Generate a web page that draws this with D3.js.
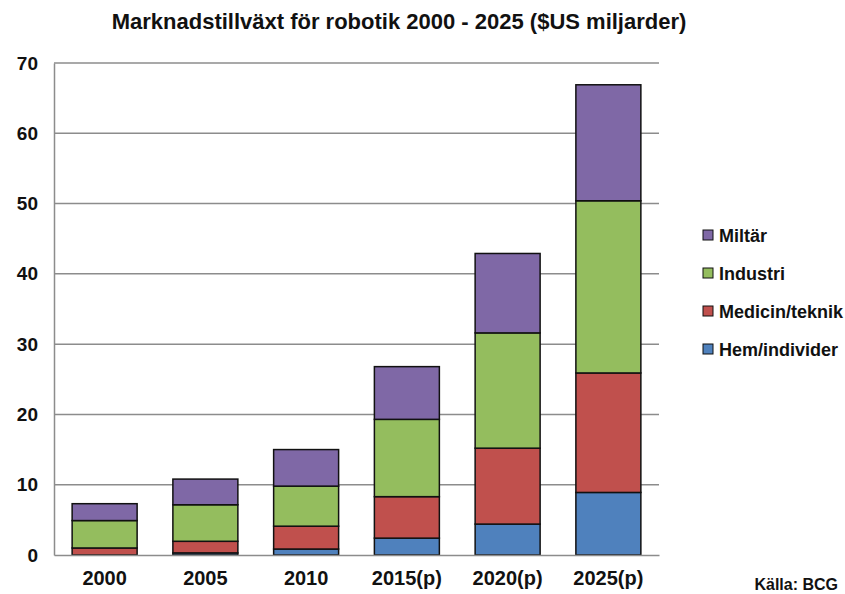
<!DOCTYPE html>
<html lang="sv">
<head>
<meta charset="utf-8">
<title>Marknadstillväxt för robotik</title>
<script src="https://cdnjs.cloudflare.com/ajax/libs/d3/7.8.5/d3.min.js"></script>
<style>
  body { margin: 0; background: #fff; }
  svg text { font-family: "Liberation Sans", Arial, sans-serif; font-weight: bold; fill: #111; }
</style>
</head>
<body>
<div id="chart"></div>
<script>
// data
var years = ["2000", "2005", "2010", "2015(p)", "2020(p)", "2025(p)"];
var seriesNames = ["Hem/individer", "Medicin/teknik", "Industri", "Miltär"];
var hem = [0, 0.3, 0.85, 2.4, 4.4, 8.9];
var medicin = [1.0, 1.65, 3.25, 5.9, 10.8, 17.0];
var industri = [3.9, 5.2, 5.7, 11.0, 16.4, 24.5];
var militar = [2.4, 3.65, 5.2, 7.5, 11.3, 16.5];
var yTicks = [0, 10, 20, 30, 40, 50, 60, 70];
var colors = ["#4f81bd", "#c0504d", "#94bd5e", "#7f68a6"];

var W = 845, H = 594;
var plotLeft = 54, plotRight = 659, plotTop = 63, plotBottom = 555;

var svg = d3.select("#chart").append("svg")
    .attr("width", W).attr("height", H);

var x = d3.scaleBand().domain(years).range([plotLeft, plotRight]).paddingInner(0.355).paddingOuter(0.18);
var y = d3.scaleLinear().domain([0, 70]).range([plotBottom, plotTop]);

// stack the four series
var table = years.map(function (yr, i) {
    return { year: yr, s0: hem[i], s1: medicin[i], s2: industri[i], s3: militar[i] };
});
var stacked = d3.stack().keys(["s0", "s1", "s2", "s3"])(table);

// gridlines
svg.append("g").selectAll("line").data(yTicks.slice(1)).join("line")
    .attr("x1", plotLeft).attr("x2", plotRight)
    .attr("y1", function (d) { return y(d); }).attr("y2", function (d) { return y(d); })
    .attr("stroke", "#8c8c8c").attr("stroke-width", 1.5);

// y axis
var yAxis = svg.append("g").attr("transform", "translate(" + plotLeft + ",0)")
    .call(d3.axisLeft(y).tickValues(yTicks).tickSize(0).tickPadding(16));
yAxis.select(".domain").attr("stroke", "#8c8c8c").attr("stroke-width", 1.5);
yAxis.selectAll("text").style("font-size", "19px");

// bars
svg.append("g").selectAll("g").data(stacked).join("g")
    .attr("fill", function (d, i) { return colors[i]; })
    .selectAll("rect").data(function (d) { return d; }).join("rect")
    .attr("x", function (d) { return x(d.data.year); })
    .attr("width", x.bandwidth())
    .attr("y", function (d) { return y(d[1]); })
    .attr("height", function (d) { return y(d[0]) - y(d[1]); })
    .attr("stroke", "#111").attr("stroke-width", 1.5);

// x axis
var xAxis = svg.append("g").attr("transform", "translate(0," + plotBottom + ")")
    .call(d3.axisBottom(x).tickSize(0).tickPadding(16));
xAxis.select(".domain").attr("stroke", "#8c8c8c").attr("stroke-width", 1.5);
xAxis.selectAll("text").style("font-size", "20px");

// title
svg.append("text").attr("x", 399).attr("y", 29).attr("text-anchor", "middle")
    .style("font-size", "22px")
    .text("Marknadstillväxt för robotik 2000 - 2025 ($US miljarder)");

// legend (top entry is the top of the stack)
var legend = svg.append("g").selectAll("g").data([3, 2, 1, 0]).join("g")
    .attr("transform", function (d, i) { return "translate(703," + (236 + i * 38) + ")"; });
legend.append("rect").attr("x", 0).attr("y", -6).attr("width", 10).attr("height", 10)
    .attr("fill", function (d) { return colors[d]; }).attr("stroke", "#111").attr("stroke-width", 1);
legend.append("text").attr("x", 16).attr("y", 6)
    .style("font-size", "18px")
    .text(function (d) { return seriesNames[d]; });

// source
svg.append("text").attr("x", 838).attr("y", 590).attr("text-anchor", "end")
    .style("font-size", "16px").text("Källa: BCG");
</script>
</body>
</html>
